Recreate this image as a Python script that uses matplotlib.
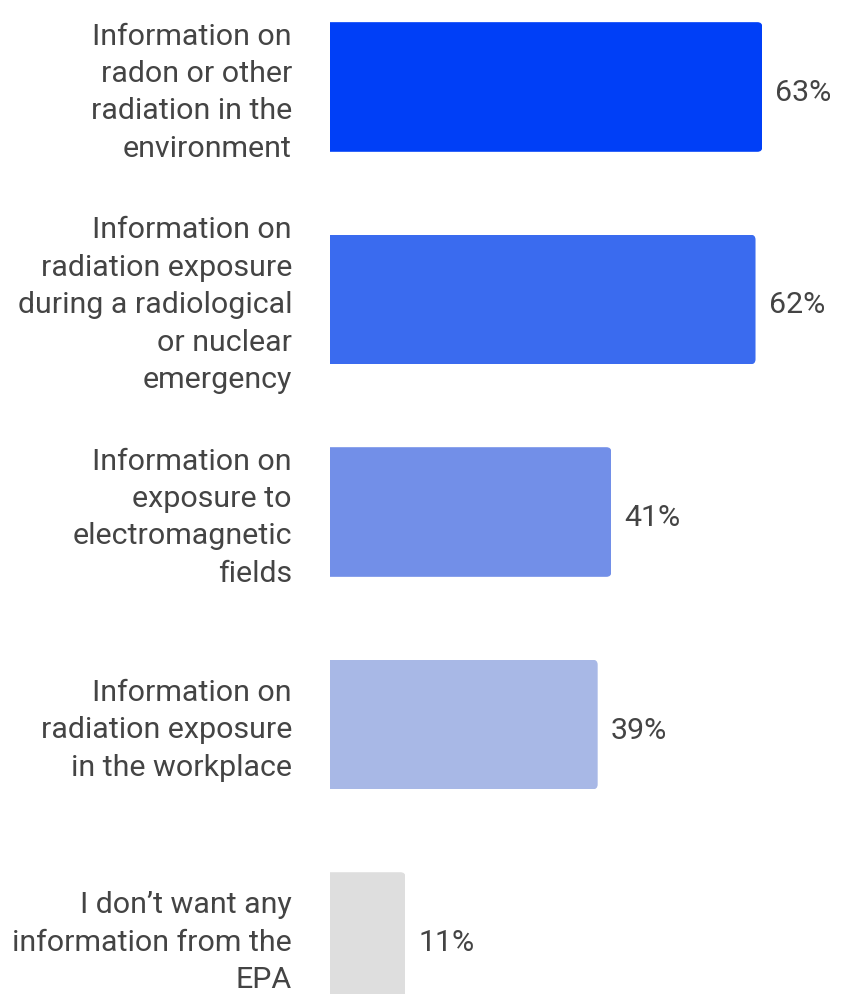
import matplotlib
matplotlib.use("Agg")
import matplotlib.pyplot as plt
from matplotlib.patches import FancyBboxPatch
from matplotlib.transforms import ScaledTranslation

categories = [
    "Information on\nradon or other\nradiation in the\nenvironment",
    "Information on\nradiation exposure\nduring a radiological\nor nuclear\nemergency",
    "Information on\nexposure to\nelectromagnetic\nfields",
    "Information on\nradiation exposure\nin the workplace",
    "I don\u2019t want any\ninformation from the\nEPA",
]
values = [63, 62, 41, 39, 11]
value_labels = ["63%", "62%", "41%", "39%", "11%"]
colors = ["#003ff7", "#3a6bef", "#728fe8", "#a8b8e6", "#dedede"]

W, H, DPI = 842, 995, 100
plt.rcParams["font.family"] = ["Roboto", "DejaVu Sans"]
text_color = "#444444"
fs = 21.9

fig = plt.figure(figsize=(W / DPI, H / DPI), dpi=DPI)
ax = fig.add_axes([330 / W, 0, 1 - 330 / W, 1])

x_max = 74.6
ax.set_xlim(0, x_max)
ax.set_ylim(4.268, -0.414)

ypos = list(range(len(values)))
bar_h = 0.61
bars = ax.barh(ypos, values, height=bar_h, color=colors, linewidth=0)

# Rounded right-hand corners: clip each bar to a rounded box that starts left of the axis
px_x = x_max / (W - 330)          # data units per pixel, x
px_y = (4.268 + 0.414) / H        # data units per pixel, y
radius_px = 5
for rect in bars:
    x0, y0 = rect.get_x(), rect.get_y()
    w, h = rect.get_width(), rect.get_height()
    clip = FancyBboxPatch(
        (x0 - 2, y0), w + 2, h,
        boxstyle=f"round,pad=0,rounding_size={radius_px * px_x}",
        mutation_aspect=px_y / px_x,
        transform=ax.transData,
    )
    rect.set_clip_path(clip)

for y, v, lab in zip(ypos, values, value_labels):
    ax.annotate(lab, xy=(v, y), xytext=(13 * 72 / DPI, -5 * 72 / DPI), textcoords="offset points",
                ha="left", va="center", fontsize=fs, color=text_color)

ax.set_yticks(ypos)
ax.set_yticklabels(categories, fontsize=fs, color=text_color, linespacing=1.43)
ax.tick_params(axis="y", length=0, pad=38 * 72 / DPI)
nudge = ScaledTranslation(0, 3 / DPI, fig.dpi_scale_trans)
for lbl in ax.get_yticklabels():
    lbl.set_transform(lbl.get_transform() + nudge)
ax.set_xticks([])
for s in ax.spines.values():
    s.set_visible(False)

fig.savefig("out.png", dpi=DPI, facecolor="white")
